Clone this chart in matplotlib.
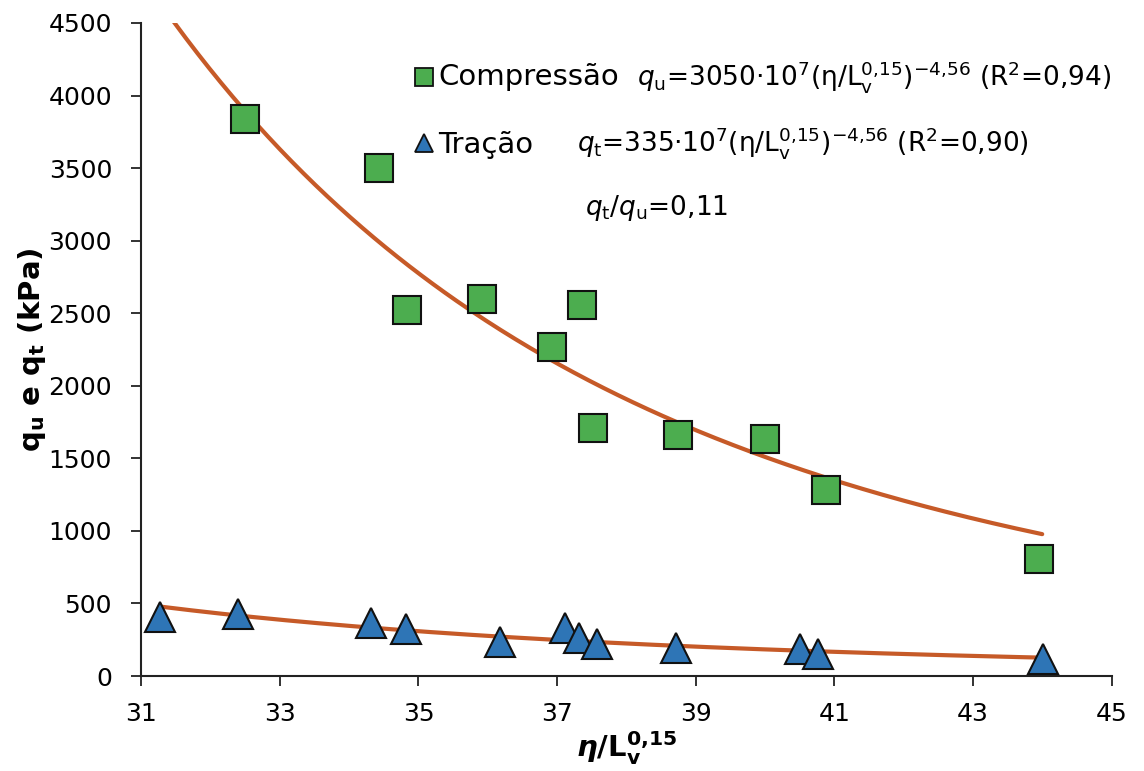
import numpy as np
import matplotlib
matplotlib.use("Agg")
import matplotlib.pyplot as plt

plt.rcParams['font.family'] = ['DejaVu Sans']
plt.rcParams['mathtext.fontset'] = 'custom'
plt.rcParams['mathtext.rm'] = 'DejaVu Sans'
plt.rcParams['mathtext.it'] = 'DejaVu Sans:italic'
plt.rcParams['mathtext.bf'] = 'DejaVu Sans:bold'

# Unconfined compression strength
comp_x = [32.50, 34.43, 34.84, 35.91, 36.92, 37.36, 37.52, 38.75, 40.00, 40.88, 43.96]
comp_y = [3840, 3500, 2520, 2595, 2270, 2560, 1710, 1660, 1630, 1285, 805]

# Splitting tensile strength
trac_x = [31.27, 32.40, 34.32, 34.82, 36.17, 37.11, 37.32, 37.57, 38.71, 40.51, 40.77, 44.01]
trac_y = [410, 429, 366, 323, 236, 328, 263, 218, 196, 186, 154, 119]

# Power-law fit for compression  q = A * (eta/Lv^0.15)^(-B)
comp_A = 3050e7
comp_B = 4.56
fit_range = (31.3, 44.0)

x_ticks = [31, 33, 35, 37, 39, 41, 43, 45]
y_ticks = [0, 500, 1000, 1500, 2000, 2500, 3000, 3500, 4000, 4500]

curve_color = '#C65A28'
green = '#4CAD4F'
blue = '#2E75B6'

fig = plt.figure(figsize=(11.44, 7.71), dpi=100)
ax = fig.add_axes([0.1235, 0.1232, 0.8481, 0.847])

xx = np.linspace(fit_range[0], fit_range[1], 300)
ax.plot(xx, comp_A * xx ** (-comp_B), color=curve_color, lw=3, zorder=2,
        solid_capstyle='round')

# tensile trend fitted on the measured points (log-log regression)
slope, intercept = np.polyfit(np.log(trac_x), np.log(trac_y), 1)
ax.plot(xx, np.exp(intercept) * xx ** slope, color=curve_color, lw=3, zorder=2,
        solid_capstyle='round')

ax.plot(comp_x, comp_y, ls='none', marker='s', ms=20, mfc=green, mec='#111111',
        mew=1.5, zorder=3, clip_on=False)
ax.plot(trac_x, trac_y, ls='none', marker='^', ms=21, mfc=blue, mec='#111111',
        mew=1.5, zorder=3, clip_on=False)

ax.set_xlim(31, 45)
ax.set_ylim(0, 4500)
ax.set_xticks(x_ticks)
ax.set_yticks(y_ticks)
ax.tick_params(axis='both', direction='out', length=7, width=1.3, labelsize=18,
               color='#222222')
ax.tick_params(axis='y', pad=14)
ax.tick_params(axis='x', pad=12)
for side in ('top', 'right'):
    ax.spines[side].set_visible(False)
for side in ('left', 'bottom'):
    ax.spines[side].set_linewidth(1.5)
    ax.spines[side].set_color('#222222')

ax.set_ylabel(r'q$_{\mathbf{u}}$ e q$_{\mathbf{t}}$ (kPa)', fontsize=21,
              fontweight='bold', labelpad=0)
ax.set_xlabel(r'$\boldsymbol{\eta}$/L$_{\mathbf{v}}^{\mathbf{0{,}15}}$', fontsize=21,
              fontweight='bold', labelpad=2)

# legend block drawn as text and markers in pixel coordinates
leg_ax = fig.add_axes([0, 0, 1, 1], facecolor='none')
leg_ax.set_axis_off()
leg_ax.set_xlim(0, 1144)
leg_ax.set_ylim(771, 0)
leg_ax.plot([424], [77], marker='s', ms=13, mfc=green, mec='#111111', mew=1.3, ls='none')
leg_ax.plot([424], [143], marker='^', ms=13, mfc=blue, mec='#111111', mew=1.3, ls='none')
leg_ax.text(438, 77, 'Compressão', fontsize=21, va='center', ha='left')
leg_ax.text(438, 145, 'Tração', fontsize=21, va='center', ha='left')
leg_ax.text(637, 77,
            r'$\mathit{q}_{\mathrm{u}}$=3050·10$^{7}$(η/L$_{\mathrm{v}}^{0{,}15}$)$^{-4{,}56}$ (R$^{2}$=0,94)',
            fontsize=19, va='center', ha='left')
leg_ax.text(577, 143,
            r'$\mathit{q}_{\mathrm{t}}$=335·10$^{7}$(η/L$_{\mathrm{v}}^{0{,}15}$)$^{-4{,}56}$ (R$^{2}$=0,90)',
            fontsize=19, va='center', ha='left')
leg_ax.text(585, 208, r'$\mathit{q}_{\mathrm{t}}$/$\mathit{q}_{\mathrm{u}}$=0,11',
            fontsize=19, va='center', ha='left')

fig.savefig('out.png', dpi=100)
